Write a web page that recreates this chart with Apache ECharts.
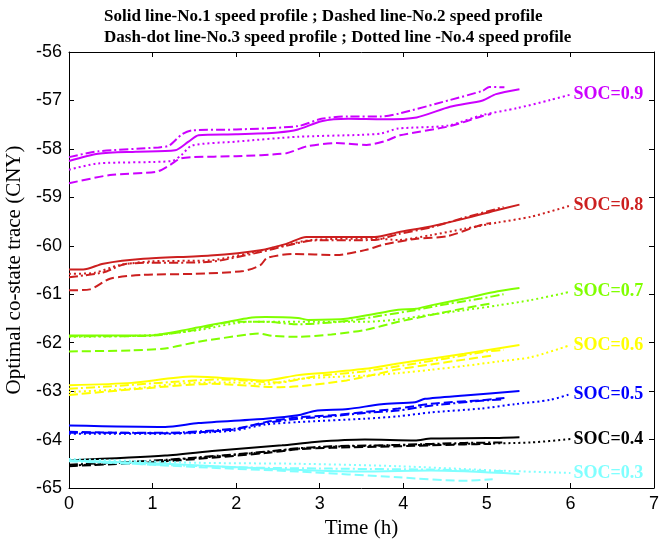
<!DOCTYPE html>
<html>
<head>
<meta charset="utf-8">
<script src="https://cdn.jsdelivr.net/npm/echarts@6/dist/echarts.min.js"></script>
<style>
  html, body { margin: 0; padding: 0; background: #ffffff; }
  #chart { width: 659px; height: 541px; }
</style>
</head>
<body>
<div id="chart"></div>
<script>
// Optimal co-state trajectories [time (h), value (CNY)] for each initial SOC
// and each of the four speed profiles.
const soc09Solid = [[0,-58.25],[0.35,-58.1],[0.8,-58.06],[1.27,-58.03],[1.43,-57.85],[1.55,-57.72],[2.0,-57.7],[2.5,-57.66],[2.74,-57.6],[3.02,-57.43],[3.34,-57.38],[3.76,-57.39],[4.16,-57.35],[4.56,-57.13],[4.95,-57.0],[5.11,-56.87],[5.39,-56.77]];
const soc09Dashed = [[0,-58.71],[0.49,-58.54],[1.05,-58.47],[1.21,-58.33],[1.33,-58.2],[1.47,-58.17],[2.0,-58.15],[2.6,-58.09],[2.84,-57.95],[3.2,-57.88],[3.56,-57.92],[3.78,-57.84],[3.96,-57.72],[4.56,-57.53],[4.95,-57.32],[5.05,-57.28]];
const soc09DashDot = [[0,-58.17],[0.35,-58.05],[1.07,-57.97],[1.2,-57.93],[1.35,-57.7],[1.47,-57.62],[2.0,-57.6],[2.74,-57.53],[3.02,-57.38],[3.34,-57.33],[3.74,-57.33],[3.95,-57.27],[4.56,-56.99],[4.95,-56.8],[5.03,-56.72],[5.21,-56.73]];
const soc09Dotted = [[0,-58.43],[0.35,-58.3],[1.23,-58.25],[1.35,-58.12],[1.47,-57.93],[2.0,-57.85],[2.74,-57.75],[3.5,-57.71],[3.74,-57.68],[3.94,-57.58],[4.53,-57.52],[4.95,-57.3],[5.36,-57.16],[5.76,-56.99],[6.0,-56.88]];

const soc08Solid = [[0,-60.49],[0.17,-60.49],[0.41,-60.37],[0.89,-60.27],[1.69,-60.2],[2.29,-60.09],[2.6,-59.96],[2.84,-59.82],[3.66,-59.82],[3.94,-59.72],[4.33,-59.6],[4.73,-59.44],[5.13,-59.26],[5.39,-59.15]];
const soc08Dashed = [[0,-60.92],[0.25,-60.9],[0.49,-60.68],[0.89,-60.6],[1.49,-60.58],[2.09,-60.52],[2.29,-60.4],[2.37,-60.25],[2.68,-60.17],[3.2,-60.19],[3.54,-60.09],[3.78,-59.97],[4.14,-59.86],[4.53,-59.8],[4.93,-59.57],[5.05,-59.53]];
const soc08DashDot = [[0,-60.65],[0.41,-60.55],[0.69,-60.37],[1.69,-60.33],[2.29,-60.13],[2.6,-60.0],[2.92,-59.89],[3.66,-59.88],[3.94,-59.76],[4.33,-59.62],[4.73,-59.42],[5.2,-59.2]];
const soc08Dotted = [[0,-60.58],[0.3,-60.56],[0.6,-60.4],[1.0,-60.32],[1.69,-60.3],[2.29,-60.1],[2.6,-59.98],[2.9,-59.88],[3.66,-59.85],[3.94,-59.88],[4.33,-59.78],[4.73,-59.65],[5.13,-59.52],[5.53,-59.4],[6.0,-59.17]];

const soc07Solid = [[0,-61.85],[0.95,-61.85],[1.47,-61.71],[2.15,-61.49],[2.35,-61.47],[2.74,-61.49],[2.86,-61.53],[3.34,-61.5],[3.94,-61.32],[4.15,-61.3],[4.33,-61.23],[4.73,-61.09],[5.13,-60.94],[5.39,-60.87]];
const soc07Dashed = [[0,-62.18],[0.75,-62.16],[1.15,-62.12],[1.55,-61.98],[2.15,-61.83],[2.27,-61.81],[2.43,-61.86],[2.74,-61.88],[3.14,-61.83],[3.54,-61.74],[3.94,-61.57],[4.33,-61.43],[4.73,-61.29],[5.05,-61.19]];
const soc07DashDot = [[0,-61.87],[0.95,-61.86],[1.5,-61.74],[1.95,-61.57],[2.35,-61.57],[2.74,-61.62],[3.34,-61.55],[3.74,-61.44],[4.14,-61.33],[4.53,-61.2],[4.93,-61.09],[5.2,-61.0]];
const soc07Dotted = [[0,-61.88],[0.95,-61.85],[1.55,-61.74],[2.15,-61.57],[2.74,-61.57],[3.54,-61.57],[3.94,-61.52],[4.33,-61.42],[4.73,-61.33],[5.13,-61.23],[5.53,-61.12],[6.0,-60.95]];

const soc06Solid = [[0,-62.88],[0.75,-62.83],[1.47,-62.7],[1.95,-62.74],[2.35,-62.78],[2.74,-62.67],[3.14,-62.61],[3.54,-62.54],[3.94,-62.43],[4.33,-62.33],[4.73,-62.23],[5.39,-62.05]];
const soc06Dashed = [[0,-63.08],[0.92,-62.94],[1.72,-62.85],[2.52,-62.92],[3.32,-62.78],[3.94,-62.55],[4.33,-62.45],[4.73,-62.35],[5.05,-62.27]];
const soc06DashDot = [[0,-62.95],[0.5,-62.9],[1.0,-62.84],[1.8,-62.76],[2.5,-62.82],[3.0,-62.68],[3.5,-62.6],[4.0,-62.47],[4.5,-62.33],[5.0,-62.18],[5.2,-62.15]];
const soc06Dotted = [[0,-63.02],[0.75,-62.95],[1.35,-62.84],[1.95,-62.82],[2.35,-62.86],[2.74,-62.75],[3.14,-62.71],[3.54,-62.68],[3.94,-62.63],[4.33,-62.56],[4.73,-62.48],[5.13,-62.39],[5.53,-62.3],[6.0,-62.05]];

const soc05Solid = [[0,-63.71],[1.15,-63.74],[1.55,-63.66],[2.35,-63.57],[2.74,-63.5],[2.94,-63.41],[3.34,-63.37],[3.74,-63.27],[4.14,-63.23],[4.26,-63.16],[4.73,-63.09],[5.39,-63.0]];
const soc05Dashed = [[0,-63.84],[1.15,-63.87],[1.95,-63.8],[2.35,-63.64],[2.74,-63.54],[3.14,-63.5],[3.54,-63.43],[3.94,-63.36],[4.33,-63.26],[4.93,-63.19],[5.21,-63.14]];
const soc05DashDot = [[0,-63.86],[1.15,-63.86],[1.95,-63.78],[2.35,-63.66],[2.74,-63.57],[3.14,-63.52],[3.54,-63.45],[3.94,-63.4],[4.33,-63.3],[4.93,-63.2],[5.2,-63.17]];
const soc05Dotted = [[0,-63.88],[1.15,-63.88],[1.95,-63.82],[2.35,-63.69],[2.74,-63.64],[3.54,-63.57],[3.94,-63.52],[4.33,-63.44],[4.93,-63.36],[5.33,-63.27],[5.76,-63.18],[6.0,-63.06]];

const soc04Solid = [[0,-64.43],[1.15,-64.33],[1.75,-64.23],[2.55,-64.12],[2.94,-64.05],[3.54,-64.0],[4.14,-64.02],[4.33,-63.98],[5.0,-63.97],[5.39,-63.95]];
const soc04Dashed = [[0,-64.55],[1.15,-64.45],[2.35,-64.28],[2.74,-64.2],[3.14,-64.17],[3.94,-64.14],[4.73,-64.1],[5.05,-64.09]];
const soc04DashDot = [[0,-64.52],[1.15,-64.42],[2.35,-64.25],[2.74,-64.18],[3.14,-64.14],[3.94,-64.11],[4.73,-64.07],[5.2,-64.06]];
const soc04Dotted = [[0,-64.54],[1.15,-64.43],[2.35,-64.26],[2.74,-64.19],[3.14,-64.15],[3.94,-64.12],[4.73,-64.09],[5.53,-64.06],[6.0,-63.99]];

const soc03Solid = [[0,-64.43],[1.15,-64.5],[2.35,-64.6],[3.54,-64.66],[4.33,-64.64],[5.39,-64.71]];
const soc03Dashed = [[0,-64.43],[1.55,-64.57],[2.74,-64.66],[3.94,-64.78],[4.73,-64.85],[5.07,-64.82]];
const soc03DashDot = [[0,-64.45],[1.95,-64.57],[3.14,-64.6],[4.33,-64.62],[5.13,-64.65],[5.2,-64.65]];
const soc03Dotted = [[0,-64.4],[1.55,-64.48],[2.74,-64.5],[3.94,-64.55],[5.13,-64.64],[6.0,-64.69]];

const socLabels = ['SOC=0.9', 'SOC=0.8', 'SOC=0.7', 'SOC=0.6', 'SOC=0.5', 'SOC=0.4', 'SOC=0.3'];
const xTicks = [0, 1, 2, 3, 4, 5, 6, 7];
const yTicks = [-65, -64, -63, -62, -61, -60, -59, -58, -57, -56];

const groups = [
  { label: socLabels[0], color: '#cc00ff', lines: [soc09Solid, soc09Dashed, soc09DashDot, soc09Dotted] },
  { label: socLabels[1], color: '#cc1f1f', lines: [soc08Solid, soc08Dashed, soc08DashDot, soc08Dotted] },
  { label: socLabels[2], color: '#80ff00', lines: [soc07Solid, soc07Dashed, soc07DashDot, soc07Dotted] },
  { label: socLabels[3], color: '#ffff00', lines: [soc06Solid, soc06Dashed, soc06DashDot, soc06Dotted] },
  { label: socLabels[4], color: '#0000ff', lines: [soc05Solid, soc05Dashed, soc05DashDot, soc05Dotted] },
  { label: socLabels[5], color: '#000000', lines: [soc04Solid, soc04Dashed, soc04DashDot, soc04Dotted] },
  { label: socLabels[6], color: '#80ffff', lines: [soc03Solid, soc03Dashed, soc03DashDot, soc03Dotted] }
];

// solid, dashed, dash-dot, dotted
const dashTypes = ['solid', [9, 4], [9, 3, 2, 3], [2, 3]];

const SERIF = '"Liberation Serif", "Times New Roman", serif';
const SANS = '"Liberation Sans", Arial, sans-serif';

const series = [];
groups.forEach(g => {
  g.lines.forEach((pts, i) => {
    const s = {
      type: 'line',
      data: pts,
      showSymbol: false,
      smooth: 0.25,
      lineStyle: { color: g.color, width: 2, type: dashTypes[i] },
      silent: true,
      z: 2
    };
    if (i === 3) {
      s.endLabel = {
        show: true,
        formatter: g.label,
        color: g.color,
        fontFamily: SERIF,
        fontWeight: 'bold',
        fontSize: 18,
        distance: 3
      };
    }
    series.push(s);
  });
});

const tickStyle = { show: true, inside: true, length: 5, lineStyle: { color: '#000', width: 1 } };
const lineStyle = { show: true, onZero: false, lineStyle: { color: '#000', width: 1 } };

const chart = echarts.init(document.getElementById('chart'), null, { renderer: 'canvas' });
chart.setOption({
  animation: false,
  backgroundColor: '#ffffff',
  title: {
    text: 'Solid line-No.1 speed profile ; Dashed line-No.2 speed profile\nDash-dot line-No.3 speed profile ; Dotted line -No.4 speed profile',
    left: 99,
    top: 1,
    textStyle: { fontFamily: SERIF, fontWeight: 'bold', fontSize: 17, lineHeight: 21, color: '#000' }
  },
  grid: { left: 69, right: 5, top: 52, bottom: 53, containLabel: false, outerBoundsMode: 'none' },
  xAxis: [
    {
      type: 'value', min: xTicks[0], max: xTicks[xTicks.length - 1], interval: 1,
      name: 'Time (h)', nameLocation: 'middle', nameGap: 29,
      nameTextStyle: { fontFamily: SERIF, fontSize: 21, color: '#000' },
      axisLine: lineStyle, axisTick: tickStyle,
      axisLabel: { fontFamily: SANS, fontSize: 18, color: '#000', margin: 7 },
      splitLine: { show: false }
    },
    {
      type: 'value', position: 'top', min: xTicks[0], max: xTicks[xTicks.length - 1], interval: 1,
      axisLine: lineStyle, axisTick: tickStyle, axisLabel: { show: false }, splitLine: { show: false }
    }
  ],
  yAxis: [
    {
      type: 'value', min: yTicks[0], max: yTicks[yTicks.length - 1], interval: 1,
      name: 'Optimal co-state trace (CNY)', nameLocation: 'middle', nameGap: 42,
      nameTextStyle: { fontFamily: SERIF, fontSize: 21, color: '#000' },
      axisLine: lineStyle, axisTick: tickStyle,
      axisLabel: { fontFamily: SANS, fontSize: 18, color: '#000', margin: 7 },
      splitLine: { show: false }
    },
    {
      type: 'value', position: 'right', min: yTicks[0], max: yTicks[yTicks.length - 1], interval: 1,
      axisLine: lineStyle, axisTick: tickStyle, axisLabel: { show: false }, splitLine: { show: false }
    }
  ],
  series: series
});
</script>
</body>
</html>
